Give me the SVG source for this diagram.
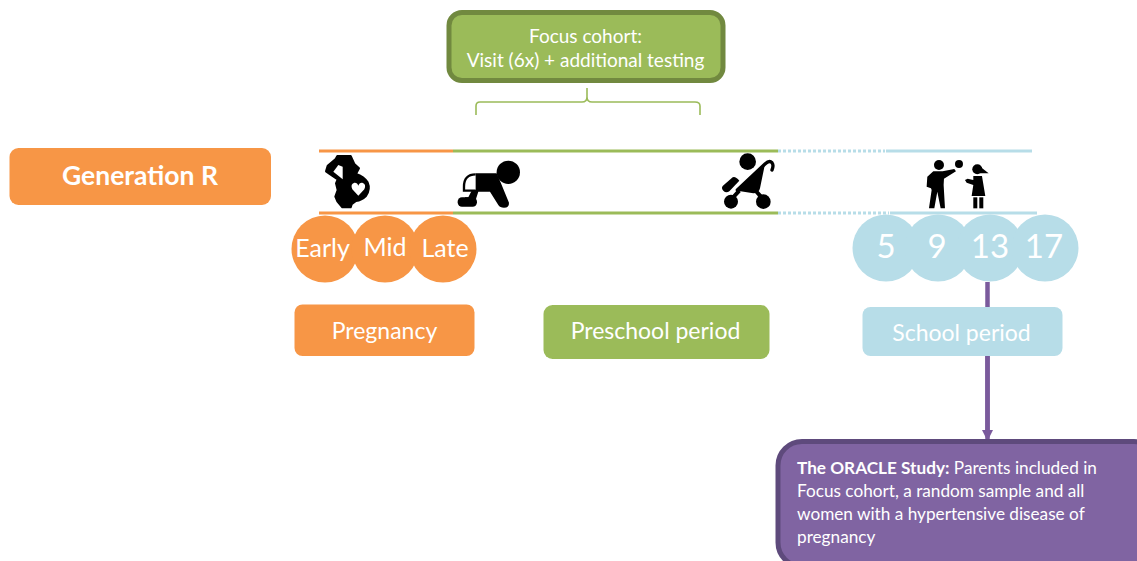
<svg xmlns="http://www.w3.org/2000/svg" width="1137" height="561" viewBox="0 0 1137 561">
<defs>
<marker id="ah" viewBox="0 0 10 10" refX="10" refY="5" markerWidth="2.500" markerHeight="2.500" orient="auto"><path d="M0 0L10 5L0 10Z" fill="#7a5a9c"/></marker>
</defs>
<style>
text{font-family:Lato,"Liberation Sans",sans-serif;fill:#fff;text-anchor:middle}
.o{fill:#f79646}.g{fill:#9bbb59}.b{fill:#b7dde8}
.k{fill:#000}
.r{stroke:#000;stroke-width:6;stroke-linejoin:round}
.w{fill:#fff}
.l{fill:none;stroke-width:3}
.big{font-size:25px}
.s{font-size:19px}
.p{font-size:17.200px;text-anchor:start}
</style>
<g id="connectors">
<path class="l" stroke="#f79646" d="M319 151H453M319 213H453"/>
<path class="l" stroke="#9bbb59" d="M453 151H778M453 213H778"/>
<path class="l" stroke="#b7dde8" stroke-dasharray="3 2" d="M778 151H885M778 213H889"/>
<path class="l" stroke="#b7dde8" d="M886 151H1032M890 213H1037"/>
<path fill="none" stroke="#9bbb59" stroke-width="1.600" d="M476 115V106Q476 102 480 102H582Q587 102 587 97V88V97Q587 102 592 102H695Q700 102 700 106V115"/>
<path fill="none" stroke="#7a5a9c" stroke-width="4.500" d="M987.500 282V441" marker-end="url(#ah)"/>
</g>
<g id="generation-r"><rect class="o" x="9.500" y="148" width="261.500" height="57" rx="9"/><text x="140" y="185" font-size="26.500" font-weight="700">Generation R</text></g>
<g id="focus-cohort"><rect x="449" y="12.500" width="274" height="68" rx="13" fill="#9bbb59" stroke="#71893f" stroke-width="5"/><text x="585.500" y="43" class="s">Focus cohort:</text><text x="585.500" y="67" class="s">Visit (6x) + additional testing</text></g>
<g id="icon-pregnant" transform="translate(300 140) scale(.3333)">
<path class="k r" d="M112 48H152L163 72L177 85L168 102Q192 110 203 127Q212 147 198 168Q185 181 168 183L155 193L152 202H127L112 184L106 170L113 150L108 130L113 118L92 104L78 94L83 77L107 57Z"/>
<path class="w" d="M115 75L128 80V118L100 95Z"/>
<path class="w" d="M175 167L157 148Q150 132 163 128Q172 127 175 137Q178 127 187 128Q200 132 193 148Z"/>
</g>
<g id="icon-baby" transform="translate(300 140) scale(.3333)">
<circle class="k" cx="625" cy="97" r="35"/>
<path class="k" d="M527 100H590L603 130L627 188Q628 203 612 203Q600 203 595 195L570 155H535L527 180H495V172H505L515 152L527 150Z"/>
<path fill="none" stroke="#000" stroke-width="7" d="M527 103Q492 103 492 140V152H527"/>
<rect class="k" x="473" y="172" width="58" height="28" rx="13"/>
</g>
<g id="icon-stroller" transform="translate(700 140) scale(.3333)">
<circle class="k" cx="143" cy="65" r="25"/>
<path fill="none" stroke="#000" stroke-width="10" stroke-linecap="round" d="M112 150L195 72Q208 60 216 68Q222 76 216 90"/>
<path class="k" d="M195 72L180 145Q177 160 160 160L112 152Z"/>
<path class="k" d="M68 138L98 112Q106 108 118 122L88 154Q78 160 70 152Q63 145 68 138Z"/>
<path fill="none" stroke="#000" stroke-width="12" d="M118 152L92 180M165 150L190 178"/>
<circle class="k" cx="93" cy="185" r="21"/><circle class="k" cx="190" cy="185" r="22"/>
</g>
<g id="icon-children" transform="translate(700 140) scale(.3333)">
<circle class="k" cx="717" cy="75" r="15"/><circle class="k" cx="777" cy="72" r="12"/>
<path class="k" d="M700 94H728L763 87L768 94L732 116L731 135L735 205H722L712 155L703 205H687L695 150L693 145L680 140L682 110Z"/>
<circle class="k" cx="832" cy="88" r="15"/>
<path class="k" d="M838 78L866 100L840 100Z"/>
<path class="k" d="M820 108H846L856 168H815L820 135L800 128L795 120L803 116L820 120Z"/>
<rect class="k" x="820" y="172" width="12" height="33"/><rect class="k" x="838" y="172" width="12" height="33"/>
</g>
<g id="early"><circle class="o" cx="325" cy="249" r="33.500"/><text class="big" x="322.500" y="257">Early</text></g>
<g id="mid"><circle class="o" cx="385" cy="249" r="33.500"/><text class="big" x="385" y="256">Mid</text></g>
<g id="late"><circle class="o" cx="443" cy="249" r="33.500"/><text class="big" x="445" y="257">Late</text></g>
<g id="age-5"><circle class="b" cx="886" cy="248" r="33.500"/><text x="886" y="258" font-size="33">5</text></g>
<g id="age-9"><circle class="b" cx="938" cy="248" r="33.500"/><text x="937" y="258" font-size="33">9</text></g>
<g id="age-13"><circle class="b" cx="990" cy="248" r="33.500"/><text x="990" y="258" font-size="33">13</text></g>
<g id="age-17"><circle class="b" cx="1045" cy="248" r="33.500"/><text x="1044" y="258" font-size="33">17</text></g>
<g id="pregnancy"><rect class="o" x="294.500" y="304.500" width="180" height="51.500" rx="8"/><text x="384.500" y="338.500" font-size="23">Pregnancy</text></g>
<g id="preschool"><rect class="g" x="543.500" y="305" width="226" height="54" rx="9"/><text x="655.500" y="339" font-size="23">Preschool period</text></g>
<g id="school"><rect class="b" x="862.500" y="307" width="200" height="49" rx="8"/><text x="961.500" y="341" font-size="23">School period</text></g>
<path fill="none" stroke="#7a5a9c" stroke-width="4.500" d="M987.500 356V434"/>
<g id="oracle"><rect x="778" y="441.500" width="380" height="125" rx="24" fill="#8064a2" stroke="#5e4a7c" stroke-width="5"/>
<text class="p" x="797" y="474"><tspan font-weight="700">The ORACLE Study:</tspan> Parents included in</text>
<text class="p" x="797" y="497">Focus cohort, a random sample and all</text>
<text class="p" x="797" y="520">women with a hypertensive disease of</text>
<text class="p" x="797" y="543">pregnancy</text></g>
</svg>
